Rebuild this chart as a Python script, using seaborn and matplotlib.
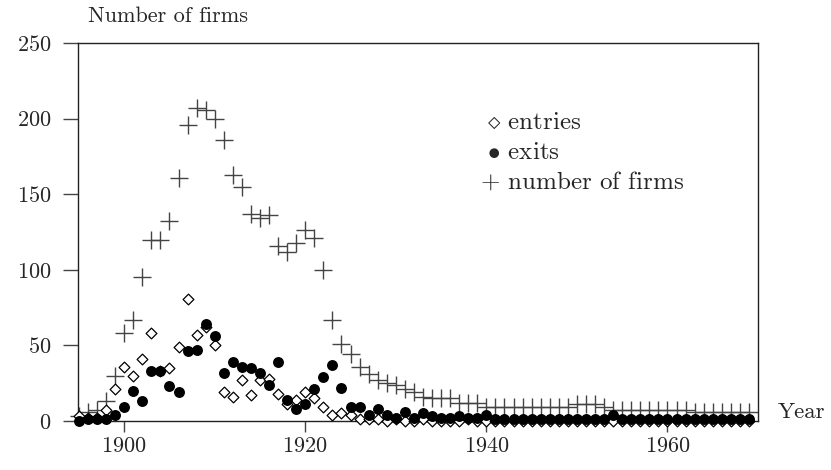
import numpy as np
import pandas as pd
import seaborn as sns
import matplotlib.pyplot as plt

years = list(range(1895, 1970))

# values
entries = [3, 2, 2, 7, 21, 36, 30, 41, 58, 33,
           35, 49, 81, 57, 62, 50, 19, 16, 27, 17,
           27, 28, 18, 11, 14, 19, 15, 9, 4, 5,
           4, 1, 1, 1, 0, 1, 0, 0, 1, 0,
           0, 0, 0, 1, 0] + [0] * 30

exits = [0, 1, 1, 1, 4, 9, 20, 13, 33, 33,
         23, 19, 46, 47, 64, 56, 32, 39, 36, 35,
         32, 24, 39, 14, 8, 11, 21, 29, 37, 22,
         9, 9, 4, 8, 4, 2, 6, 2, 5, 3,
         2, 2, 3, 2, 2, 4] + [1] * 13 + [4] + [1] * 15

firms = [3, 6, 7, 13, 30, 58, 67, 95, 120, 120,
         132, 161, 196, 207, 206, 200, 186, 163, 155, 137,
         134, 136, 116, 112, 118, 126, 121, 100, 67, 51,
         44, 36, 31, 27, 25, 24, 21, 19, 16, 15,
         15, 15, 12, 12, 12] + [9] * 10 + [11] * 3 + [9] + [7] * 9 + [6] * 7

df = pd.DataFrame({'Year': years, 'entries': entries, 'exits': exits, 'firms': firms})

sns.set_style("ticks")
plt.rcParams['font.family'] = 'cmr10'
plt.rcParams['mathtext.fontset'] = 'cm'
plt.rcParams['axes.formatter.use_mathtext'] = True

fig = plt.figure(figsize=(8.31, 4.70), dpi=100)
ax = fig.add_axes([78 / 831, 1 - 421 / 470, 680 / 831, 378 / 470])

sns.scatterplot(data=df, x='Year', y='firms', marker='+', s=150, color='#444444',
                edgecolor=None, linewidth=1.0, ax=ax, clip_on=False, zorder=2)
sns.scatterplot(data=df, x='Year', y='entries', marker='D', s=30, color='white',
                edgecolor='black', linewidth=0.9, ax=ax, clip_on=False, zorder=3)
sns.scatterplot(data=df, x='Year', y='exits', marker='o', s=62, color='black',
                edgecolor='black', linewidth=0, ax=ax, clip_on=False, zorder=4)

ax.set_xlim(1894.9, 1970)
ax.set_ylim(0, 250)
ax.set_xticks([1900, 1920, 1940, 1960])
ax.set_yticks([0, 50, 100, 150, 200, 250])
ax.set_xlabel('')
ax.set_ylabel('')
for side in ['left', 'right', 'top', 'bottom']:
    ax.spines[side].set_visible(True)
    ax.spines[side].set_color('#222222')
    ax.spines[side].set_linewidth(1.0)
ax.tick_params(axis='y', direction='out', length=11, width=1, pad=8, labelsize=16, color='#444444')
ax.tick_params(axis='x', direction='out', length=8, width=1, pad=3, labelsize=16, color='#444444')

fig.text(88 / 831, 1 - 22 / 470, 'Number of firms', fontsize=16, va='baseline', ha='left')
fig.text(778 / 831, 1 - 418 / 470, 'Year', fontsize=16.5, va='baseline', ha='left')

fig.text(487 / 831, 1 - 129 / 470, r'$\diamond$ entries', fontsize=18, va='baseline')
fig.text(487 / 831, 1 - 159 / 470, r'$\bullet$ exits', fontsize=18, va='baseline')
fig.text(480 / 831, 1 - 189 / 470, r'$+$ number of firms', fontsize=18, va='baseline')

plt.savefig('out.png', dpi=100)
